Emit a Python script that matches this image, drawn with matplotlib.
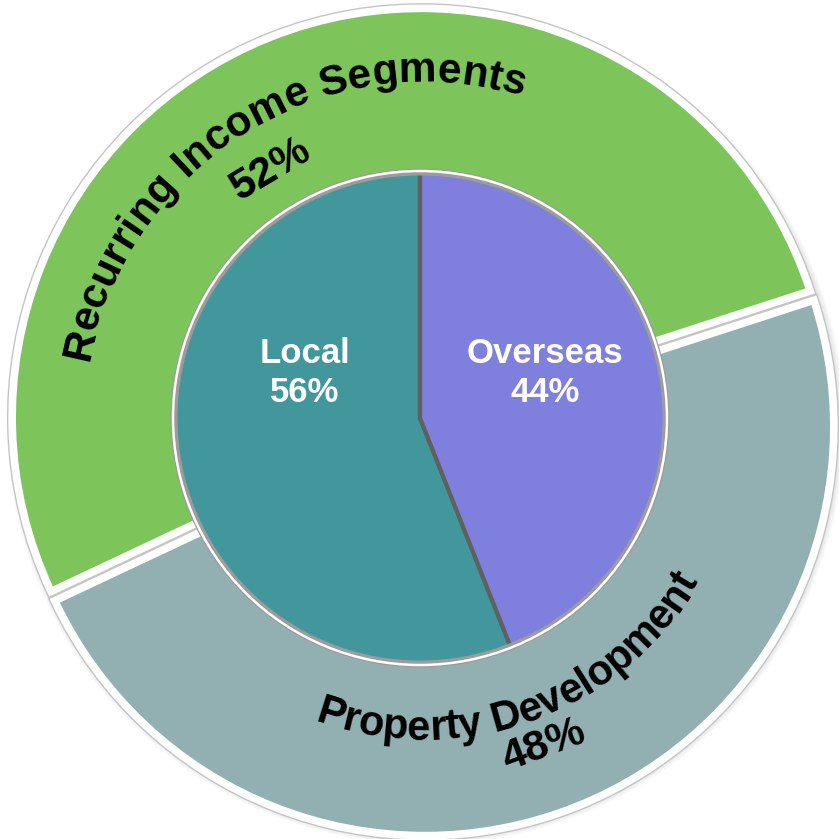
import numpy as np
import matplotlib.pyplot as plt
from matplotlib import font_manager
from matplotlib.ft2font import FT2Font
from matplotlib.patches import Circle

# ---------------------------
# Data
# ---------------------------
outer_labels = ["Recurring Income Segments", "Property Development"]
outer_values = [52, 48]
outer_colors = ["#7DC45B", "#92AFB2"]

inner_labels = ["Local", "Overseas"]
inner_values = [56, 44]
inner_colors = ["#41979C", "#7F7FDD"]

FONT = "Liberation Sans"

# ---------------------------
# Figure (data units = pixels)
# ---------------------------
fig = plt.figure(figsize=(8.39, 8.39), dpi=100)
ax = fig.add_axes([0, 0, 1, 1])

cx_out, cy_out, r_out = 423, 417, 409
cx_in, cy_in, r_in = 420, 421, 246

# soft shadow behind the ring
for k in range(6):
    ax.add_patch(Circle((cx_out + 3, cy_out - 4), r_out + 2 + k * 1.5,
                        color="black", alpha=0.025, lw=0, zorder=0))

ax.pie(outer_values, colors=outer_colors, startangle=18, counterclock=True,
       center=(cx_out, cy_out), radius=r_out, explode=[5, 5],
       wedgeprops=dict(width=175, edgecolor="#c4c4c4", linewidth=7.5))
ax.pie(outer_values, colors=outer_colors, startangle=18, counterclock=True,
       center=(cx_out, cy_out), radius=r_out, explode=[5, 5],
       wedgeprops=dict(width=175, edgecolor="white", linewidth=5.5))

ax.pie(inner_values, colors=inner_colors, startangle=90, counterclock=True,
       center=(cx_in, cy_in), radius=r_in,
       wedgeprops=dict(edgecolor="#606060", linewidth=3))
ax.add_patch(Circle((cx_in, cy_in), r_in, fill=False, edgecolor="#9c9c9c", lw=5))
ax.add_patch(Circle((cx_in, cy_in), r_in + 1, fill=False, edgecolor="white", lw=1.8))


# ---------------------------
# Curved text
# ---------------------------
fp = font_manager.FontProperties(family=FONT, weight="bold")
ft = FT2Font(font_manager.findfont(fp))


def advance_px(ch, size):
    ft.set_size(size, 72)
    return ft.load_char(ord(ch)).linearHoriAdvance / 65536 * 100 / 72


def arc_text(text, cx, cy, r, mid_deg, size, clockwise):
    advs = np.array([advance_px(c, size) for c in text])
    span = advs.sum() / r
    centres = np.cumsum(advs) - advs / 2
    for c, s in zip(text, centres):
        if clockwise:
            th = np.radians(mid_deg) + span / 2 - s / r
            rot = np.degrees(th) - 90
        else:
            th = np.radians(mid_deg) - span / 2 + s / r
            rot = np.degrees(th) + 90
        ax.text(cx + r * np.cos(th), cy + r * np.sin(th), c, rotation=rot,
                rotation_mode="anchor", ha="center", va="baseline",
                fontsize=size, fontweight="bold", family=FONT, color="black")


arc_text(outer_labels[0], cx_out, cy_out, 340, 121.5, 30.5, clockwise=True)
arc_text(outer_labels[1], cx_out, cy_out, 318, 290, 30, clockwise=False)

# percentages of the outer ring
th = np.radians(121)
ax.text(cx_out + 295 * np.cos(th), cy_out + 295 * np.sin(th), f"{outer_values[0]}%",
        rotation=31, ha="center", va="center", fontsize=31, fontweight="bold",
        family=FONT, rotation_mode="anchor")
th = np.radians(290.5)
ax.text(cx_out + 345 * np.cos(th), cy_out + 345 * np.sin(th), f"{outer_values[1]}%",
        rotation=20.5, ha="center", va="center", fontsize=31, fontweight="bold",
        family=FONT, rotation_mode="anchor")

# inner labels
ax.text(305, 839 - 373, f"{inner_labels[0]}\n{inner_values[0]}%", ha="center", va="center",
        color="white", fontsize=25, fontweight="bold", family=FONT, linespacing=1.2)
ax.text(545, 839 - 373, f"{inner_labels[1]}\n{inner_values[1]}%", ha="center", va="center",
        color="white", fontsize=25, fontweight="bold", family=FONT, linespacing=1.2)

ax.set_xlim(0, 839)
ax.set_ylim(0, 839)
ax.set_aspect("equal")
ax.axis("off")

plt.savefig("out.png", dpi=100, facecolor="white")
